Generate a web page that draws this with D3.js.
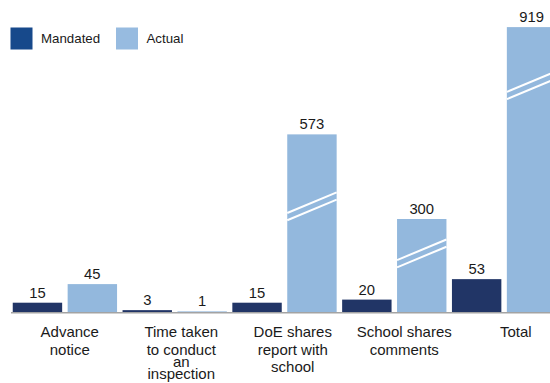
<!DOCTYPE html>
<html>
<head>
<meta charset="utf-8">
<script src="https://cdn.jsdelivr.net/npm/d3@7"></script>
<style>
  html, body { margin: 0; padding: 0; background: #fff; }
  svg { display: block; font-family: "Liberation Sans", Arial, Helvetica, sans-serif; }
</style>
</head>
<body>
<svg id="chart" width="550" height="383"></svg>
<script>
// Inspection timeline: mandated vs. actual days
const categories = [
  "Advance notice",
  "Time taken to conduct an inspection",
  "DoE shares report with school",
  "School shares comments",
  "Total"
];
const labelLines = [
  ["Advance", "notice"],
  ["Time taken", "to conduct", "an", "inspection"],
  ["DoE shares", "report with", "school"],
  ["School shares", "comments"],
  ["Total"]
];
const seriesNames = ["Mandated", "Actual"];
const mandated = [15, 3, 15, 20, 53];
const actual = [45, 1, 573, 300, 919];

// Bars above this value are drawn on a half-height scale with break marks
const breakThreshold = 100;
const breakCompress = 0.5;
// Where the break marks sit, as a share of the drawn bar height
const breakFraction = { 2: 0.595, 3: 0.63, 4: 0.796 };

const colors = { Mandated: "#213566", Actual: "#93b8dd" };
const legendColors = { Mandated: "#17498b", Actual: "#97bbe0" };

const svg = d3.select("#chart");
const baseline = 312;

const x0 = d3.scaleBand().domain(categories).range([10, 559]).paddingInner(0).paddingOuter(0);
const x1 = d3.scaleBand().domain(seriesNames).range([0, x0.bandwidth()])
  .paddingInner(0.1).paddingOuter(0.05);
const xLabel = d3.scaleBand().domain(categories).range([14, 571.5]);
const y = d3.scaleLinear().domain([0, 100]).range([baseline, baseline - 62]);

const rows = [];
categories.forEach((c, i) => {
  rows.push({ cat: c, i, series: "Mandated", value: mandated[i] });
  rows.push({ cat: c, i, series: "Actual", value: actual[i] });
});
rows.forEach(d => {
  d.broken = d.value > breakThreshold;
  d.drawn = d.broken ? d.value * breakCompress : d.value;
  d.x = x0(d.cat) + x1(d.series);
  d.top = y(d.drawn);
});

// baseline
svg.append("line")
  .attr("x1", 11).attr("x2", 550)
  .attr("y1", baseline + 0.8).attr("y2", baseline + 0.8)
  .attr("stroke", "#a3a3a3").attr("stroke-width", 1.5);

// bars
svg.append("g").selectAll("rect").data(rows).join("rect")
  .attr("x", d => d.x)
  .attr("y", d => d.top)
  .attr("width", x1.bandwidth())
  .attr("height", d => baseline - d.top)
  .attr("fill", d => colors[d.series]);

// break marks on compressed bars
const w = x1.bandwidth();
const rise = 20.6, gap = 3.6;
const brokenRows = rows.filter(d => d.broken);
const marks = svg.append("g");
brokenRows.forEach(d => {
  const cy = baseline - (baseline - d.top) * breakFraction[d.i];
  [-gap, gap].forEach(off => {
    marks.append("line")
      .attr("x1", d.x).attr("x2", d.x + w)
      .attr("y1", cy + off + rise / 2).attr("y2", cy + off - rise / 2)
      .attr("stroke", "#fff").attr("stroke-width", 2);
  });
});

// value labels
svg.append("g").selectAll("text").data(rows).join("text")
  .attr("x", d => d.x + w / 2)
  .attr("y", d => d.top - 5)
  .attr("text-anchor", "middle")
  .attr("font-size", 14.8)
  .attr("fill", "#1a1a1a")
  .text(d => d.value);

// category labels
const catG = svg.append("g");
categories.forEach((c, i) => {
  const cx = xLabel(c) + xLabel.bandwidth() / 2;
  const t = catG.append("text")
    .attr("x", cx)
    .attr("text-anchor", "middle")
    .attr("font-size", 15)
    .attr("fill", "#1a1a1a");
  let yy = 337.3;
  labelLines[i].forEach((line, j) => {
    if (j > 0) yy += (labelLines[i].length > 3 && j > 1) ? 12 : 17.5;
    t.append("tspan").attr("x", cx).attr("y", yy).text(line);
  });
});

// legend
const legendX = { Mandated: 10.5, Actual: 116 };
const lg = svg.append("g");
seriesNames.forEach(s => {
  lg.append("rect").attr("x", legendX[s]).attr("y", 27.5)
    .attr("width", 22).attr("height", 22).attr("fill", legendColors[s]);
  lg.append("text").attr("x", legendX[s] + 30.5).attr("y", 42.5)
    .attr("font-size", 13.3).attr("fill", "#1a1a1a").text(s);
});
</script>
</body>
</html>
